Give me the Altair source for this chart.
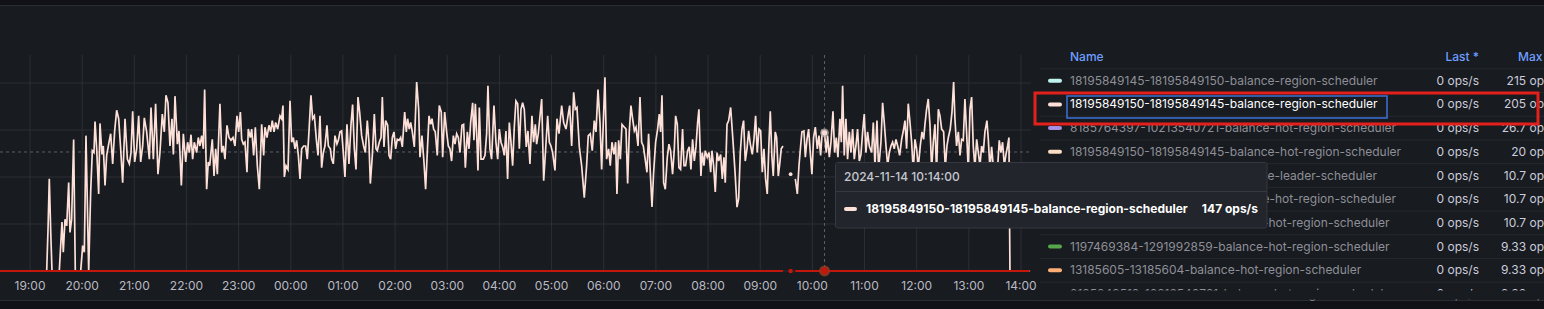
import altair as alt
import pandas as pd

# ---------------- data (minutes after 2024-11-13 19:00, ops/s) ----------------
pink_t = [
    19.2, 20.7, 22.2, 23.8, 25.3, 33.7, 35.3, 36.8, 38.3, 40.3, 42.2, 44.5, 46.0, 47.9, 50.2, 52.1,
    58.3, 60.6, 62.5, 64.4, 67.5, 69.8, 71.7, 73.6, 74.8, 76.7, 79.0, 80.5, 82.8, 84.3, 86.3, 88.2,
    90.9, 92.8, 95.1, 97.4, 99.7, 102.0, 104.3, 106.6, 109.3, 112.0, 114.3, 116.2, 118.1, 120.4,
    122.7, 125.0, 127.3, 129.6, 131.5, 134.2, 137.3, 139.2, 141.9, 144.5, 147.2, 149.5, 152.2,
    154.5, 156.4, 158.7, 161.0, 163.3, 164.9, 166.8, 169.5, 171.4, 174.1, 176.4, 179.1, 181.3,
    183.3, 185.2, 187.1, 189.0, 191.7, 193.6, 195.5, 197.5, 199.4, 200.9, 203.2, 205.1,
    206.7, 208.2, 209.7, 211.7, 213.6, 215.5, 218.5, 220.5, 222.4, 224.3, 226.6, 228.9, 231.2,
    233.5, 235.8, 238.1, 240.0, 242.0, 243.5, 245.4, 247.3, 249.6, 251.1, 253.4, 255.0, 257.3,
    259.2, 261.5, 263.8, 266.5, 268.8, 270.3, 272.6, 274.9, 276.8, 278.7, 280.7, 282.6, 284.9,
    287.6, 289.5, 291.0, 292.6, 294.5, 296.8, 299.1, 301.0, 302.9, 304.8, 306.7, 308.7, 310.6,
    312.5, 314.8, 317.1, 319.0, 320.9, 323.2, 325.1, 327.1, 329.4, 331.3, 333.6, 335.5, 337.4,
    339.3, 341.6, 343.2, 345.5, 347.0, 348.9, 350.8, 353.1, 354.7, 356.6, 358.5, 360.4, 362.3,
    364.6, 366.9, 369.2, 371.1, 373.1, 375.0, 377.3, 379.2, 381.5, 383.8, 385.7, 388.0, 389.9,
    391.5, 393.8, 396.1,
    398.0, 399.5, 401.8, 403.8, 405.3, 407.2, 409.1, 411.4, 413.0, 414.9, 416.8, 418.7, 420.6,
    422.5, 424.5, 426.4, 428.3, 431.0, 432.9, 434.4, 436.3, 437.9, 439.8, 442.1, 444.8, 447.1,
    448.6, 450.9, 453.2, 455.1, 457.0, 459.0, 460.9, 462.4, 464.3, 466.2, 468.5, 470.8, 473.1,
    474.7, 477.0, 479.3, 481.2, 483.1, 485.0, 487.0, 488.9, 490.8, 492.7, 494.6, 496.9, 498.8,
    500.8, 503.1, 505.0, 506.9, 509.2, 510.7, 512.3, 514.2, 515.3, 516.9, 518.8, 521.5, 523.4,
    525.3, 526.8, 529.1, 531.0, 533.7, 536.0, 538.0, 539.9, 541.8, 543.7, 545.6, 547.5, 549.4,
    551.4, 553.3, 555.2, 557.1, 559.0, 561.0, 562.9, 564.8, 566.7, 568.6, 570.9, 572.8, 575.1,
    577.4, 579.3, 581.3, 582.8, 584.7,
    588.6, 590.9, 593.2, 595.5, 597.4, 599.3, 601.2, 603.9, 606.2, 608.5, 611.6, 613.9, 616.6,
    618.9, 620.8, 623.1, 625.4, 627.3, 629.2, 631.9, 634.6, 637.6, 640.3, 642.2, 644.5, 646.8,
    649.1, 651.1, 653.4, 655.7, 657.6, 659.5, 661.4, 663.3, 665.6, 667.5, 669.5, 671.8, 673.7,
    675.2, 677.1, 679.1, 681.0, 683.7, 685.6, 687.5, 689.4, 691.3, 693.2, 695.2, 697.1, 699.4,
    701.7, 703.6, 705.5, 707.4, 709.7, 711.6, 713.2, 715.5, 717.4, 719.7, 722.0, 723.9, 725.4,
    727.0, 728.9, 730.8, 733.1, 735.0, 736.9, 739.2, 741.2, 742.7, 744.6, 746.5, 748.4, 750.7,
    752.3, 754.2, 756.5, 758.4, 760.3, 762.2, 764.2, 766.1, 768.0, 769.5, 771.8, 773.4, 775.3,
    776.8, 779.1, 781.1, 783.0, 784.5, 786.4, 788.3, 790.3, 792.2, 794.5, 796.4, 798.3, 799.8,
    801.8, 803.7, 806.0, 807.9, 809.8, 811.3, 813.3, 815.2, 817.1, 819.0, 820.9, 822.8, 824.8,
    826.7, 828.6, 830.9, 832.8, 834.7, 836.6, 838.6, 840.5, 842.4, 844.3, 846.2, 848.1, 850.1,
    851.6, 853.5, 855.0, 857.3, 858.9, 860.8, 862.7, 864.2, 866.2,
    880.4, 882.7, 884.6, 886.5, 888.0, 890.3, 891.9, 893.8, 895.7, 897.6, 899.5, 901.4, 903.4,
    905.7, 907.6, 909.5, 911.4, 914.0, 916.0, 917.5, 919.5, 921.4, 923.7, 925.6, 927.5, 929.4,
    931.7, 933.3, 934.8, 936.7, 938.6, 940.5, 942.5, 944.4, 946.3, 948.2, 950.1, 952.0, 954.0,
    955.9, 957.8, 959.7, 961.6, 963.5, 965.5,
    968.2, 970.1, 972.0, 974.3, 976.2, 978.9, 980.8, 982.7, 984.7, 986.6, 988.5, 990.4, 992.3,
    994.2, 996.2, 998.1, 1000.4, 1002.7, 1005.0, 1006.5, 1008.4, 1010.3, 1012.3, 1014.2, 1016.1,
    1018.0, 1019.9, 1021.8, 1024.1, 1026.1, 1028.0, 1029.5, 1031.4, 1033.3, 1035.3, 1037.2,
    1039.1, 1041.0, 1042.9, 1044.9, 1046.8, 1048.7, 1051.0, 1052.9, 1054.8, 1056.4, 1058.6,
    1060.6, 1062.5, 1064.0, 1065.9, 1067.9, 1069.8, 1071.7, 1073.6, 1075.5, 1077.4, 1079.4,
    1081.3, 1083.2, 1085.1, 1087.0, 1089.0, 1090.9, 1092.8, 1094.7, 1096.6, 1098.5, 1100.8,
    1102.4, 1104.3, 1106.2, 1108.1, 1110.8, 1113.1, 1115.0, 1116.9, 1118.8, 1120.8, 1122.7,
    1124.6, 1126.1, 1127.3, 1150.0,
]
pink_v = [
    0, 43, 98, 43, 0, 0, 27, 52, 20, 55, 48, 94, 41, 55, 140, 0,
    0, 27, 20, 144, 0, 84, 128, 126, 159, 130, 82, 157, 124, 133, 91, 123,
    137, 146, 114, 149, 171, 162, 130, 94, 162, 119, 114, 126, 170, 116,
    130, 165, 116, 133, 163, 148, 119, 174, 119, 178, 103, 126, 167,
    148, 187, 179, 133, 162, 124, 186, 135, 149, 91, 146, 116, 137,
    126, 145, 119, 137, 126, 142, 133, 144, 130, 193, 87, 116,
    112, 126, 140, 101, 130, 103, 178, 126, 133, 119, 155, 142, 139,
    142, 133, 165, 148, 169, 140, 135, 137, 105, 151, 142, 151, 123,
    153, 112, 87, 156, 123, 153, 142, 155, 148, 160, 148, 158, 151,
    165, 162, 176, 100, 112, 108, 181, 137, 142, 130, 139, 123, 98,
    130, 133, 133, 119, 148, 187, 162, 165, 140, 123, 165, 110, 126,
    133, 155, 133, 130, 119, 114, 144, 135, 139, 148, 149, 126, 100,
    156, 114, 155, 177, 130, 108, 185, 169, 144, 133, 126, 160, 137,
    93, 123, 167,
    130, 128, 137, 142, 185, 132, 160, 155, 123, 119, 142, 148, 130,
    140, 139, 142, 132, 169, 148, 162, 151, 158, 148, 132, 201, 172,
    121, 144, 116, 87, 126, 165, 156, 162, 151, 148, 123, 176, 169,
    121, 169, 148, 133, 130, 117, 144, 135, 146, 142, 126, 155, 156,
    110, 148, 130, 158, 179, 139, 178, 137, 107, 174, 119, 119, 123,
    146, 197, 130, 119, 176, 137, 119, 151, 137, 132, 123, 149, 98,
    158, 137, 112, 153, 181, 178, 130, 172, 179, 172, 132, 149, 114,
    165, 137, 156, 135, 146,
    183, 96, 130, 165, 137, 133, 126, 107, 162, 146, 176, 158, 151,
    165, 176, 133, 190, 172, 174, 132, 112, 78, 112, 144, 146, 128,
    160, 148, 193, 158, 108, 158, 206, 119, 130, 112, 137, 124, 137,
    82, 139, 119, 156, 153, 151, 93, 148, 176, 162, 149, 153, 133,
    185, 137, 133, 121, 105, 146, 112, 68, 105, 137, 151, 167, 148,
    187, 94, 87, 121, 135, 128, 103, 130, 165, 156, 110, 108, 151,
    112, 112, 128, 132, 108, 140, 117, 132, 158, 172, 101, 126, 112,
    128, 121, 126, 105, 128, 112, 84, 126, 117, 124, 98, 121, 94,
    156, 160, 174, 149, 123, 101, 68, 77, 126, 151, 160, 117, 130,
    149, 135, 124, 140, 165, 126, 151, 149, 105, 130, 98, 82, 137,
    170, 121, 101, 148, 142, 101, 116, 130, 133,
    98, 82, 112, 133, 148, 149, 121, 140, 151, 126, 103, 142, 153,
    130, 144, 123, 149, 147, 126, 144, 121, 137, 170, 126, 142, 121,
    162, 137, 197, 123, 162, 119, 148, 126, 151, 119, 133, 151, 117,
    124, 148, 167, 126, 148, 133,
    126, 158, 112, 160, 108, 137, 179, 158, 133, 112, 126, 133, 137,
    130, 140, 133, 123, 140, 151, 160, 130, 178, 158, 137, 105,
    140, 130, 110, 133, 148, 140, 156, 172, 183, 155, 108,
    137, 156, 104, 172, 165, 151, 148, 110, 133, 142, 151,
    169, 201, 162, 133, 148, 123, 140, 139, 183, 148, 106,
    172, 185, 133, 110, 140, 126, 112, 133, 126, 148, 160,
    140, 108, 132, 112, 114, 110, 139, 126, 137, 112, 124,
    133, 142, 0, 0,
]
gap_after = 866.2          # last sample before the missing stretch
lone_t = [875.0]           # isolated sample inside the gap
lone_pink_v = [103]
red_t = [-40.0, 866.2, 880.4, 1150.0]
red_v = [0, 0, 0, 0]
hover_t = [914.0]
hover_v = [147]
cursor_v = [126.6]
tick_t = [0, 60, 120, 180, 240, 300, 360, 420, 480, 540, 600, 660, 720, 780, 840, 900, 960, 1020, 1080, 1140]
tick_labels = ["19:00", "20:00", "21:00", "22:00", "23:00", "00:00", "01:00", "02:00", "03:00", "04:00",
               "05:00", "06:00", "07:00", "08:00", "09:00", "10:00", "11:00", "12:00", "13:00", "14:00"]
grid_v = [0, 50, 100, 150, 200]

legend_names = [
    "18195849145-18195849150-balance-region-scheduler",
    "18195849150-18195849145-balance-region-scheduler",
    "8185764397-10213540721-balance-hot-region-scheduler",
    "18195849150-18195849145-balance-hot-region-scheduler",
    "18195849150-18195849145-balance-leader-scheduler",
    "8185764397-10213540721-balance-hot-region-scheduler",
    "1197469384-1291992859-balance-hot-region-scheduler",
    "1197469384-1291992859-balance-hot-region-scheduler",
    "13185605-13185604-balance-hot-region-scheduler",
    "8185849513-10213540721-balance-hot-region-scheduler",
]
legend_last = ["0 ops/s"] * 10
legend_max = ["215 ops/s", "205 ops/s", "26.7 ops/s", "20 ops/s", "10.7 ops/s", "10.7 ops/s",
              "10.7 ops/s", "9.33 ops/s", "9.33 ops/s", "9.33 ops/s"]
legend_colors = ["#bff3ee", "#fde0d8", "#a48fe3", "#fbdcc4", "#73bf69", "#f2cc0c",
                 "#8ab8ff", "#56a64b", "#ffae78", "#ca95e5"]
legend_header = ["Name", "Last *", "Max"]
highlight_row = 1
tooltip_time = ["2024-11-14 10:14:00"]
tooltip_value = ["147 ops/s"]

# ---------------- styles ----------------
BG = "#111217"
PANEL = "#181b1f"
GRID = "#2c2f34"
PINK = "#fde0d8"
RED = "#c4170c"
FONT = "Inter"

xs = alt.Scale(domain=[0, 1140], range=[30, 1021], nice=False, zero=False)
ys = alt.Scale(domain=[0, 200], range=[271, 83], nice=False, zero=False)
rs = alt.Scale(domain=[0, 9], range=[80.7, 294], nice=False, zero=False)

one = pd.DataFrame({"k": [0]})
pink = pd.DataFrame({"t": pink_t, "v": pink_v})
pink["seg"] = (pink["t"] > gap_after).astype(int)
red = pd.DataFrame({"t": red_t, "v": red_v})
red["seg"] = (red["t"] > gap_after).astype(int)
lone_p = pd.DataFrame({"t": lone_t, "v": lone_pink_v})
lone_r = pd.DataFrame({"t": lone_t, "v": [0]})
hov_p = pd.DataFrame({"t": hover_t, "v": hover_v})
hov_r = pd.DataFrame({"t": hover_t, "v": [0]})
ticks = pd.DataFrame({"t": tick_t, "lab": tick_labels})
grid = pd.DataFrame({"v": grid_v})
cur_h = pd.DataFrame({"v": cursor_v})
cur_v = pd.DataFrame({"t": hover_t})
rows = pd.DataFrame({
    "row": list(range(len(legend_names))),
    "name": legend_names,
    "last": legend_last,
    "max": legend_max,
    "sw": legend_colors,
})
rows["tc"] = ["#ffffff" if i == highlight_row else "#8e8f98" for i in rows["row"]]
rows["sep"] = rows["row"] - 0.5
hdr = pd.DataFrame({"h": legend_header})

X = alt.X("t:Q", scale=xs, axis=None)
Y = alt.Y("v:Q", scale=ys, axis=None)
R = alt.Y("row:Q", scale=rs, axis=None)

layers = []
# panel
layers.append(alt.Chart(one).mark_rect(fill=PANEL, stroke="#2a2d33", strokeWidth=1).encode(
    x=alt.value(-3), x2=alt.value(1547), y=alt.value(5.5), y2=alt.value(300.5)))
# grid
layers.append(alt.Chart(ticks).mark_rule(color=GRID, strokeWidth=1).encode(
    x=X, y=alt.value(55), y2=alt.value(271)))
layers.append(alt.Chart(grid).mark_rule(color=GRID, strokeWidth=1).encode(
    y=Y, x=alt.value(0), x2=alt.value(1031)))
# crosshair
layers.append(alt.Chart(cur_h).mark_rule(color="#5c5f66", strokeWidth=1, strokeDash=[3, 3]).encode(
    y=Y, x=alt.value(0), x2=alt.value(1031)))
layers.append(alt.Chart(cur_v).mark_rule(color="#5c5f66", strokeWidth=1, strokeDash=[3, 3]).encode(
    x=X, y=alt.value(55), y2=alt.value(271)))
# series
layers.append(alt.Chart(pink).mark_line(color=PINK, strokeWidth=1.7).encode(x=X, y=Y, detail="seg:N"))
layers.append(alt.Chart(lone_p).mark_circle(color=PINK, size=14, opacity=1).encode(x=X, y=Y))
layers.append(alt.Chart(red).mark_line(color=RED, strokeWidth=2).encode(x=X, y=Y, detail="seg:N"))
layers.append(alt.Chart(lone_r).mark_circle(color=RED, size=20, opacity=1).encode(x=X, y=Y))
layers.append(alt.Chart(hov_r).mark_circle(color="#8c3b24", size=120, opacity=0.9).encode(x=X, y=Y))
layers.append(alt.Chart(hov_r).mark_circle(color=RED, size=45, opacity=1).encode(x=X, y=Y))
layers.append(alt.Chart(hov_p).mark_circle(color="#b9aaa7", size=75, opacity=0.8).encode(x=X, y=Y))
layers.append(alt.Chart(hov_p).mark_circle(color="#f3dcd6", size=28, opacity=1).encode(x=X, y=Y))
# x labels
layers.append(alt.Chart(ticks).mark_text(font=FONT, fontSize=12, color="#b9bac4", baseline="middle").encode(
    x=X, y=alt.value(286), text="lab:N"))
# legend
layers.append(alt.Chart(rows).mark_rule(color="#262930", strokeWidth=1).encode(
    y=alt.Y("sep:Q", scale=rs, axis=None), x=alt.value(1040), x2=alt.value(1546)))
layers.append(alt.Chart(rows).mark_rule(strokeWidth=4, strokeCap="round").encode(
    y=R, x=alt.value(1050), x2=alt.value(1060), color=alt.Color("sw:N", scale=None)))
layers.append(alt.Chart(rows).mark_text(font=FONT, fontSize=12, align="left", baseline="middle").encode(
    y=R, x=alt.value(1070), text="name:N", color=alt.Color("tc:N", scale=None)))
layers.append(alt.Chart(rows).mark_text(font=FONT, fontSize=12, align="right", baseline="middle", color="#ccccdc").encode(
    y=R, x=alt.value(1479), text="last:N"))
layers.append(alt.Chart(rows).mark_text(font=FONT, fontSize=12, align="right", baseline="middle", color="#ccccdc").encode(
    y=R, x=alt.value(1561), text="max:N"))
layers.append(alt.Chart(hdr.iloc[[0]]).mark_text(font=FONT, fontSize=12, fontWeight=500, align="left", baseline="middle", color="#6e9fff").encode(
    y=alt.value(57), x=alt.value(1070), text="h:N"))
layers.append(alt.Chart(hdr.iloc[[1]]).mark_text(font=FONT, fontSize=12, fontWeight=500, align="right", baseline="middle", color="#6e9fff").encode(
    y=alt.value(57), x=alt.value(1479), text="h:N"))
layers.append(alt.Chart(hdr.iloc[[2]]).mark_text(font=FONT, fontSize=12, fontWeight=500, align="left", baseline="middle", color="#6e9fff").encode(
    y=alt.value(57), x=alt.value(1518), text="h:N"))
# clip bottom of legend scroll area
layers.append(alt.Chart(one).mark_rect(fill=PANEL).encode(
    x=alt.value(1038), x2=alt.value(1547), y=alt.value(290.5), y2=alt.value(299.5)))
# highlight boxes
layers.append(alt.Chart(one).mark_rect(fillOpacity=0, stroke="#3d71d9", strokeWidth=1.5).encode(
    x=alt.value(1067), x2=alt.value(1387), y=alt.value(96), y2=alt.value(118)))
layers.append(alt.Chart(one).mark_rect(fillOpacity=0, stroke="#e3201b", strokeWidth=3).encode(
    x=alt.value(1035), x2=alt.value(1538), y=alt.value(93), y2=alt.value(124)))
# tooltip
tip = pd.DataFrame({"time": tooltip_time, "name": [legend_names[highlight_row]], "val": tooltip_value})
layers.append(alt.Chart(one).mark_rect(fill="#22252b", stroke="#363940", strokeWidth=1, cornerRadius=2).encode(
    x=alt.value(835.5), x2=alt.value(1267), y=alt.value(162.5), y2=alt.value(228)))
layers.append(alt.Chart(one).mark_rule(color="#363940", strokeWidth=1).encode(
    x=alt.value(836), x2=alt.value(1266.5), y=alt.value(191.5)))
layers.append(alt.Chart(tip).mark_text(font=FONT, fontSize=12, fontWeight=500, align="left", baseline="middle", color="#c6c7d1").encode(
    x=alt.value(844), y=alt.value(177), text="time:N"))
layers.append(alt.Chart(one).mark_rule(color=PINK, strokeWidth=4, strokeCap="round").encode(
    x=alt.value(846), x2=alt.value(855), y=alt.value(209)))
layers.append(alt.Chart(tip).mark_text(font=FONT, fontSize=12, fontWeight="bold", align="left", baseline="middle", color="#ffffff").encode(
    x=alt.value(866), y=alt.value(209), text="name:N"))
layers.append(alt.Chart(tip).mark_text(font=FONT, fontSize=12, fontWeight="bold", align="right", baseline="middle", color="#ffffff").encode(
    x=alt.value(1258), y=alt.value(209), text="val:N"))

chart = alt.layer(*layers).resolve_scale(x="independent", y="independent", color="independent").properties(
    width=1544, height=309, autosize=alt.AutoSizeParams(type="none"), padding=0, background=BG
).configure_view(strokeWidth=0)

chart.save("out.html", embed_options={"renderer": "svg", "actions": False})
